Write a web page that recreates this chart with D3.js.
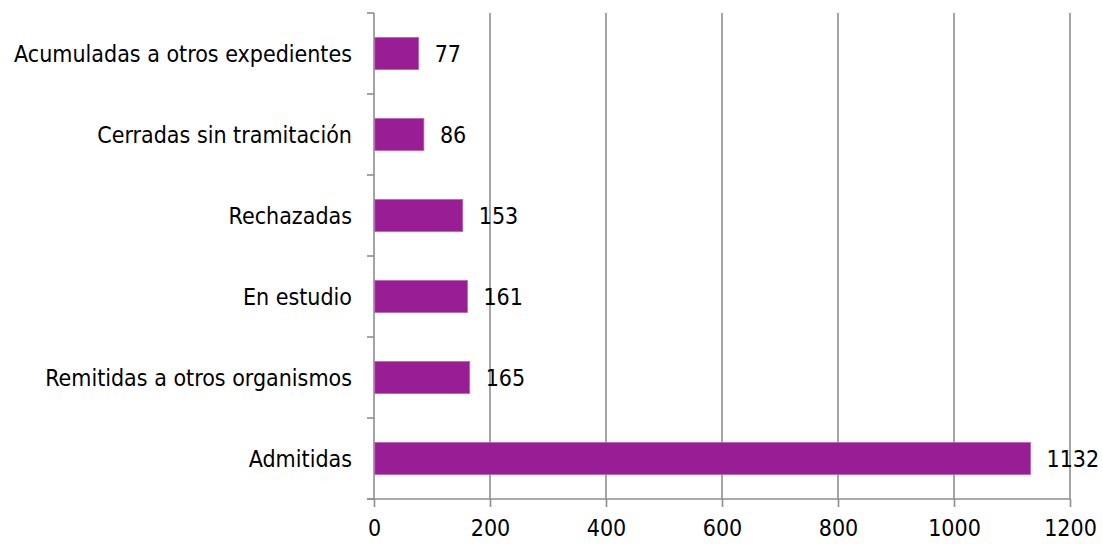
<!DOCTYPE html>
<html>
<head>
<meta charset="utf-8">
<script src="https://cdn.jsdelivr.net/npm/d3@7"></script>
<style>
  body { margin: 0; background: #fff; }
  svg text { font-family: "DejaVu Sans Condensed", "DejaVu Sans", sans-serif; font-stretch: condensed; font-size: 23px; fill: #000; }
</style>
</head>
<body>
<div id="chart"></div>
<script>
// Categories from top to bottom, with their counts
const categories = [
  'Acumuladas a otros expedientes',
  'Cerradas sin tramitación',
  'Rechazadas',
  'En estudio',
  'Remitidas a otros organismos',
  'Admitidas',
]
const values = [77, 86, 153, 161, 165, 1132]
const xTicks = [0, 200, 400, 600, 800, 1000, 1200]

const width = 1103,
  height = 544
const margin = { top: 13, right: 33, bottom: 45, left: 374 }
const innerW = width - margin.left - margin.right
const innerH = height - margin.top - margin.bottom

const svg = d3
  .select('#chart')
  .append('svg')
  .attr('width', width)
  .attr('height', height)

const g = svg.append('g').attr('transform', `translate(${margin.left},${margin.top})`)

const x = d3.scaleLinear().domain([0, 1200]).range([0, innerW])
const y = d3.scaleBand().domain(categories).range([0, innerH]).paddingInner(0).paddingOuter(0)

const gridColor = '#8e8e8e'

// vertical gridlines
g.selectAll('.grid')
  .data(xTicks.slice(1))
  .enter()
  .append('line')
  .attr('x1', (d) => x(d))
  .attr('x2', (d) => x(d))
  .attr('y1', 0)
  .attr('y2', innerH)
  .attr('stroke', gridColor)
  .attr('stroke-width', 1.6)

// bottom axis
const xAxis = g
  .append('g')
  .attr('transform', `translate(0,${innerH})`)
  .call(
    d3
      .axisBottom(x)
      .tickValues(xTicks)
      .tickFormat(d3.format('d'))
      .tickSize(8)
      .tickPadding(13)
      .tickSizeOuter(0)
  )
xAxis.select('.domain').remove()
xAxis.selectAll('line').attr('stroke', gridColor).attr('stroke-width', 1.6)
xAxis.selectAll('text').attr('dy', '0.71em')
xAxis
  .append('line')
  .attr('x1', -7)
  .attr('x2', innerW)
  .attr('y1', 0)
  .attr('y2', 0)
  .attr('stroke', gridColor)
  .attr('stroke-width', 1.6)

// left axis: ticks sit on the category boundaries
const boundaries = d3.range(categories.length + 1).map((i) => i * y.step())
const yAxis = g.append('g')
yAxis
  .append('line')
  .attr('x1', 0)
  .attr('x2', 0)
  .attr('y1', 0)
  .attr('y2', innerH)
  .attr('stroke', gridColor)
  .attr('stroke-width', 1.6)
yAxis
  .selectAll('.tick')
  .data(boundaries)
  .enter()
  .append('line')
  .attr('x1', -7)
  .attr('x2', 0)
  .attr('y1', (d) => d)
  .attr('y2', (d) => d)
  .attr('stroke', gridColor)
  .attr('stroke-width', 1.6)
yAxis
  .selectAll('text')
  .data(categories)
  .enter()
  .append('text')
  .attr('x', -22)
  .attr('y', (d) => y(d) + y.bandwidth() / 2)
  .attr('dy', '0.36em')
  .attr('text-anchor', 'end')
  .text((d) => d)

// bars
const barH = 32
g.selectAll('.bar')
  .data(categories)
  .enter()
  .append('rect')
  .attr('x', 0.8)
  .attr('y', (d) => y(d) + y.bandwidth() / 2 - barH / 2)
  .attr('width', (d, i) => x(values[i]) - 0.8)
  .attr('height', barH)
  .attr('fill', '#991e96')
  .attr('stroke', '#b763b4')
  .attr('stroke-width', 0.8)

// value labels
g.selectAll('.label')
  .data(categories)
  .enter()
  .append('text')
  .attr('x', (d, i) => x(values[i]) + 16)
  .attr('y', (d) => y(d) + y.bandwidth() / 2)
  .attr('dy', '0.36em')
  .text((d, i) => values[i])
</script>
</body>
</html>
